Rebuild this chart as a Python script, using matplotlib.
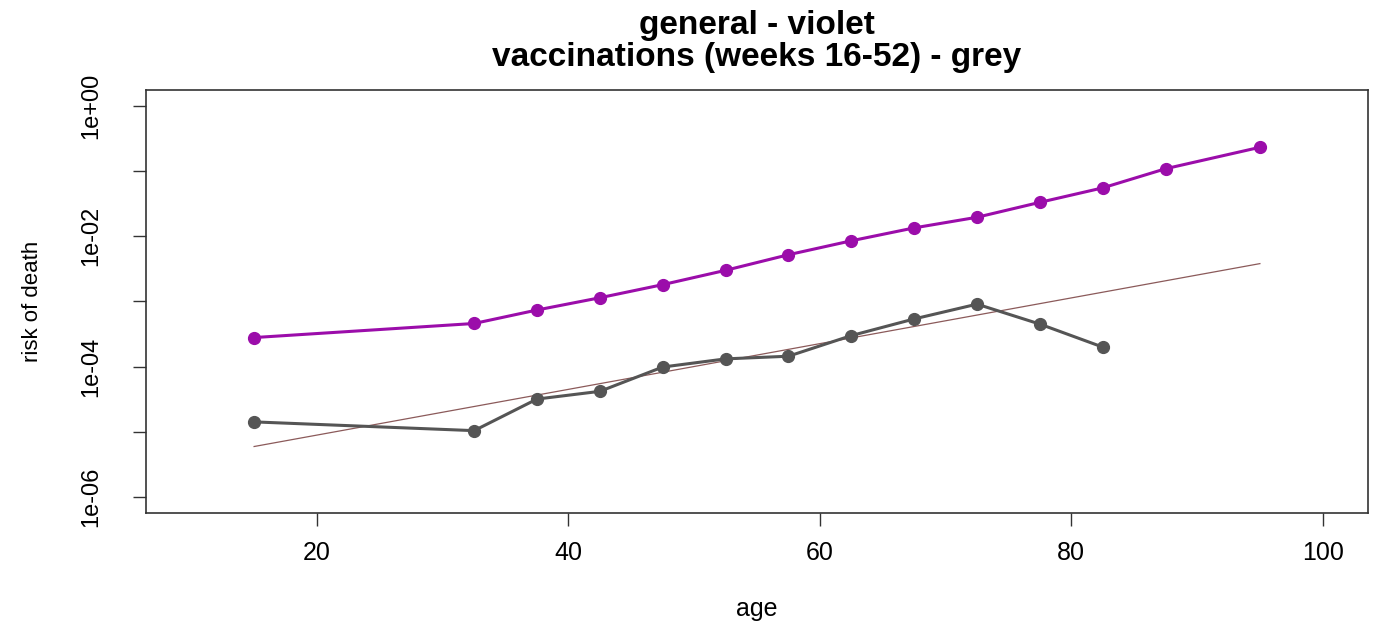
import numpy as np
import matplotlib.pyplot as plt

plt.rcParams['font.family'] = ['Liberation Sans', 'DejaVu Sans']

# age group midpoints
general_age = [15, 32.5, 37.5, 42.5, 47.5, 52.5, 57.5, 62.5, 67.5, 72.5, 77.5, 82.5, 87.5, 95]
general_risk = [2.8e-4, 4.6e-4, 7.4e-4, 1.14e-3, 1.81e-3, 3.0e-3, 5.2e-3, 8.5e-3,
                1.34e-2, 1.95e-2, 3.3e-2, 5.5e-2, 0.108, 0.23]

vacc_age = [15, 32.5, 37.5, 42.5, 47.5, 52.5, 57.5, 62.5, 67.5, 72.5, 77.5, 82.5]
vacc_risk = [1.43e-5, 1.05e-5, 3.2e-5, 4.2e-5, 9.9e-5, 1.32e-4, 1.45e-4, 3.0e-4,
             5.4e-4, 9.1e-4, 4.5e-4, 2.0e-4]

# trend line (log-linear)
fit_age = [15, 95]
fit_risk = [6.0e-6, 3.8e-3]

x_ticks = [20, 40, 60, 80, 100]
y_ticks = [1e-6, 1e-5, 1e-4, 1e-3, 1e-2, 1e-1, 1e0]
y_labels = ['1e-06', '', '1e-04', '', '1e-02', '', '1e+00']

violet = '#9B0DAA'
grey = '#555555'

fig = plt.figure(figsize=(13.76, 6.23), dpi=100)
ax = fig.add_axes([0.1061, 0.1766, 0.8881, 0.679])

ax.plot(general_age, general_risk, color=violet, lw=2.2, marker='o', ms=8.5, zorder=3)
ax.plot(fit_age, fit_risk, color='#8B5A5A', lw=0.9, zorder=2)
ax.plot(vacc_age, vacc_risk, color=grey, lw=2.2, marker='o', ms=8.5, zorder=3)

ax.set_yscale('log')
ax.set_xlim(6.4, 103.6)
ax.set_ylim(10 ** -6.24, 10 ** 0.24)
ax.set_xticks(x_ticks)
ax.set_xticklabels([str(t) for t in x_ticks], fontsize=18)
ax.set_yticks(y_ticks)
ax.set_yticklabels(y_labels, fontsize=17, rotation=90, va='center')
ax.yaxis.set_minor_locator(plt.NullLocator())
ax.tick_params(axis='both', length=9.5, width=1.0, color='#333333')
ax.tick_params(axis='x', pad=11)
ax.tick_params(axis='y', pad=22)

for s in ax.spines.values():
    s.set_linewidth(1.2)
    s.set_color('#333333')

ax.set_xlabel('age', fontsize=18, labelpad=23)
ax.set_ylabel('risk of death', fontsize=16, labelpad=27)
ax.set_title('general - violet\nvaccinations (weeks 16-52) - grey',
             fontsize=24, fontweight='bold', pad=17, linespacing=1.05)

fig.savefig('out.png', dpi=100)
